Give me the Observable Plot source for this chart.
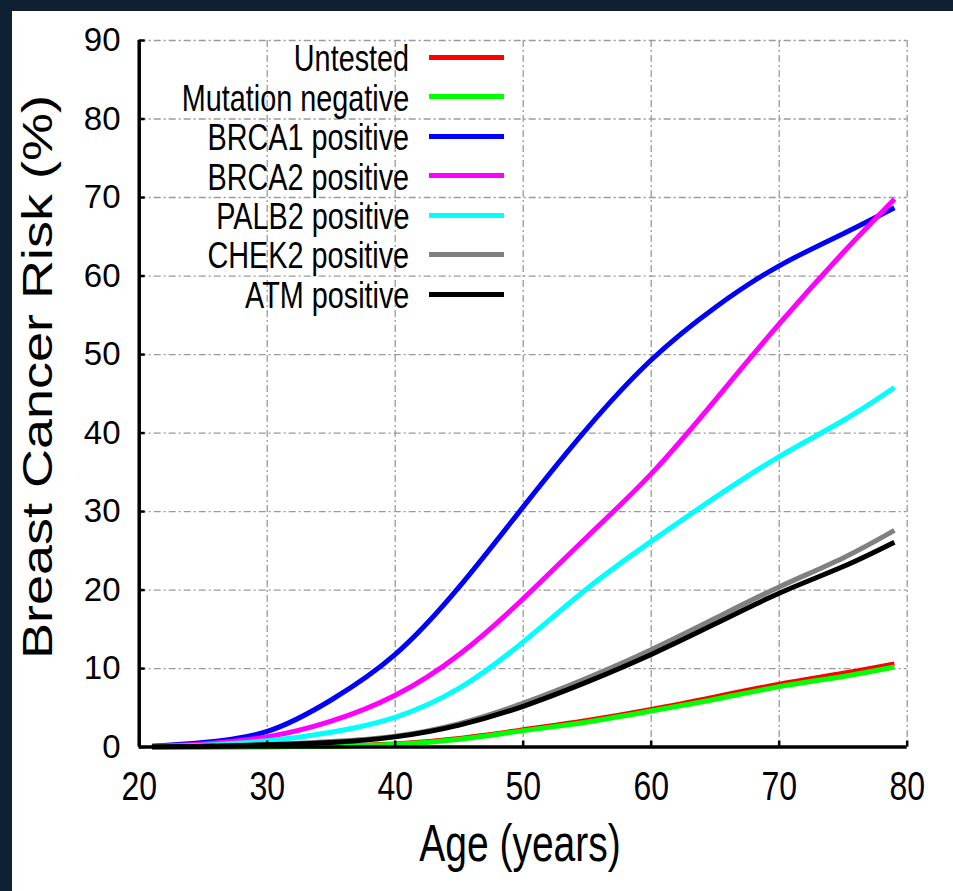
<!DOCTYPE html>
<html><head><meta charset="utf-8">
<script src="https://cdn.jsdelivr.net/npm/d3@7"></script>
<script src="https://cdn.jsdelivr.net/npm/@observablehq/plot@0.6"></script>
<style>
html,body{margin:0;padding:0;background:#0f2033;}
#wrap{position:relative;width:953px;height:891px;overflow:hidden;background:#0f2033;}
#panel{position:absolute;left:12px;top:11px;width:941px;height:880px;background:#fff;}
#chart{position:absolute;left:0;top:0;}
.t{position:absolute;font-family:"Liberation Sans",Arial,sans-serif;color:#000;white-space:nowrap;}
.sw{position:absolute;height:5px;}
</style>
</head><body>
<div id="wrap"><div id="panel"></div><div id="chart"></div></div>
<script>
const ages = [21, 25, 30, 35, 40, 45, 50, 55, 60, 65, 70, 75, 79];
const seriesNames = ["Untested", "Mutation negative", "BRCA1 positive", "BRCA2 positive", "PALB2 positive", "CHEK2 positive", "ATM positive"];
const seriesColors = ["#ff0000", "#00ff00", "#0000ff", "#ff00ff", "#00ffff", "#808080", "#000000"];
const untested = [0, 0.02, 0.05, 0.15, 0.4, 1.1, 2.2, 3.4, 4.8, 6.4, 8.0, 9.4, 10.6];
const mutationNegative = [0, 0.02, 0.05, 0.1, 0.35, 1.0, 2.1, 3.2, 4.6, 6.1, 7.7, 9.0, 10.2];
const brca1 = [0.1, 0.6, 2.0, 6.0, 11.8, 20.4, 30.6, 40.6, 49.3, 56.0, 61.3, 65.4, 68.7];
const brca2 = [0.1, 0.4, 1.3, 3.3, 6.6, 11.8, 18.9, 26.8, 34.8, 44.2, 53.9, 63.0, 69.8];
const palb2 = [0.05, 0.25, 0.8, 1.9, 3.8, 7.5, 13.4, 20.2, 26.2, 31.8, 37.0, 41.6, 45.8];
const chek2 = [0.05, 0.1, 0.3, 0.7, 1.4, 3.0, 5.6, 8.8, 12.4, 16.4, 20.4, 24.1, 27.6];
const atm = [0.05, 0.1, 0.3, 0.6, 1.3, 2.8, 5.2, 8.3, 11.8, 15.7, 19.6, 23.0, 26.1];
const xTicks = [20, 30, 40, 50, 60, 70, 80];
const yTicks = [0, 10, 20, 30, 40, 50, 60, 70, 80, 90];
const xLabel = "Age (years)";
const yLabel = "Breast Cancer Risk (%)";

const allSeries = [untested, mutationNegative, brca1, brca2, palb2, chek2, atm];
const rows = [];
allSeries.forEach((vals, i) => vals.forEach((v, j) => rows.push({series: seriesNames[i], age: ages[j], risk: v})));

const gridStyle = {stroke: "#9a9a9a", strokeOpacity: 1, strokeWidth: 1.3, strokeDasharray: "7,3,2,3"};
const chart = Plot.plot({
  width: 953, height: 891,
  marginLeft: 138.7, marginRight: 46.3, marginTop: 40, marginBottom: 144.4,
  style: {background: "transparent", overflow: "visible", color: "#000"},
  x: {domain: [20, 80]},
  y: {domain: [0, 90]},
  color: {domain: seriesNames, range: seriesColors},
  marks: [
    Plot.gridX(xTicks.filter(d => d > 20), gridStyle),
    Plot.gridY(yTicks.filter(d => d > 0), gridStyle),
    ...seriesNames.map(name => Plot.line(rows.filter(r => r.series === name), {
      x: "age", y: "risk", stroke: "series", strokeWidth: 5, curve: "natural", strokeLinecap: "butt"
    })),
    Plot.ruleX([20], {stroke: "#000", strokeWidth: 3.5}),
    Plot.ruleY([0], {stroke: "#000", strokeWidth: 3.5}),
    Plot.axisX(xTicks, {tickSize: -6, tickPadding: 30.5, strokeWidth: 2.5, fontSize: 40, fontFamily: "Liberation Sans", label: null}),
    Plot.axisY(yTicks, {tickSize: -6, tickPadding: 24.7, strokeWidth: 2.5, fontSize: 33, fontFamily: "Liberation Sans", label: null})
  ]
});
document.getElementById("chart").appendChild(chart);
// condensed x tick labels
chart.querySelectorAll('g[aria-label="x-axis tick label"] text').forEach(t => {
  t.setAttribute("transform", (t.getAttribute("transform") || "") + " scale(0.8,1)");
});

const wrap = document.getElementById("wrap");
// axis titles
const xl = document.createElement("div");
xl.className = "t"; xl.textContent = xLabel;
Object.assign(xl.style, {fontSize: "52px", lineHeight: "52px", left: "520px", top: "817px", transform: "translateX(-50%) scaleX(0.75)"});
wrap.appendChild(xl);
const yl = document.createElement("div");
yl.className = "t"; yl.textContent = yLabel;
Object.assign(yl.style, {fontSize: "54px", lineHeight: "54px", left: "37px", top: "377px", transform: "translate(-50%,-50%) rotate(-90deg) scaleY(0.78)"});
wrap.appendChild(yl);
// legend
seriesNames.forEach((name, i) => {
  const cy = 57.3 + i * 39.45;
  const t = document.createElement("div");
  t.className = "t"; t.textContent = name;
  Object.assign(t.style, {fontSize: "36px", lineHeight: "36px", right: (953 - 409) + "px", top: (cy + 14.4 - 30.5) + "px", transform: "scaleX(0.8)", transformOrigin: "right center"});
  wrap.appendChild(t);
  const s = document.createElement("div");
  s.className = "sw";
  Object.assign(s.style, {left: "429px", width: "75px", top: (cy - 2.5) + "px", background: seriesColors[i]});
  wrap.appendChild(s);
});
</script>
</body></html>
